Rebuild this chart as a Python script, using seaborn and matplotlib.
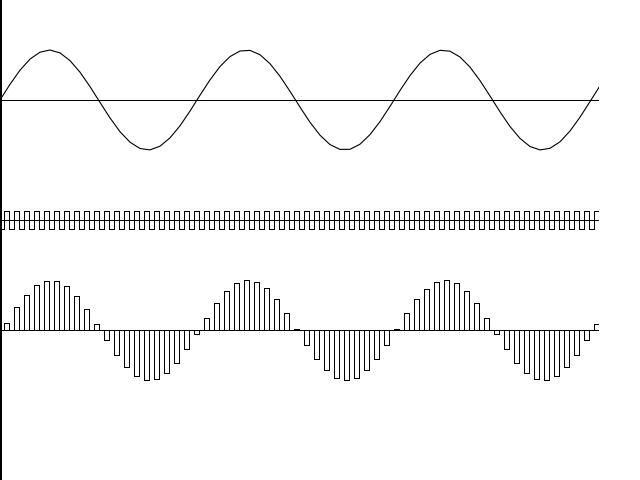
import matplotlib
matplotlib.use("Agg")
import matplotlib.pyplot as plt
import seaborn as sns

sns.set_theme(style="white")
plt.rcParams["lines.antialiased"] = False
plt.rcParams["patch.antialiased"] = False

# ── Data ─────────────────────────────────────────────────────────────────────
# continuous signal, sampled every 10 time units
CURVE_T = list(range(0, 601, 10))
CURVE_Y = [0.0, 15.7, 29.8, 40.9, 47.8, 50.0, 47.1, 39.4, 27.8, 13.4,
           -2.4, -17.9, -31.7, -42.2, -48.5, -49.9, -46.2, -37.9, -25.8, -11.1,
           4.8, 20.1, 33.5, 43.4, 49.0, 49.6, 45.3, 36.3, 23.7, 8.7,
           -7.1, -22.3, -35.2, -44.6, -49.4, -49.3, -44.2, -34.6, -21.6, -6.4,
           9.5, 24.4, 36.9, 45.6, 49.7, 48.8, 43.0, 32.9, 19.4, 4.0,
           -11.8, -26.5, -38.4, -46.5, -49.9, -48.3, -41.8, -31.0, -17.2, -1.6,
           14.2]

# sample clock: one pulse per sample, pulse starts at each sample time
SAMPLE_T = list(range(4, 600, 10))
PULSE_LEN = 5
CLOCK_HIGH, CLOCK_LOW = 1, -1

# sampled (held) values
SAMPLE_Y = [7.5, 22.6, 35.4, 44.7, 49.5, 49.2, 44.0, 34.4, 21.3, 6.0,
            -9.8, -24.7, -37.1, -45.7, -49.8, -48.8, -42.9, -32.6, -19.1, -3.7,
            12.2, 26.7, 38.7, 46.6, 49.9, 48.2, 41.6, 30.8, 16.9, 1.3,
            -14.5, -28.7, -40.1, -47.5, -50.0, -47.5, -40.2, -28.9, -14.6, 1.1,
            16.7, 30.7, 41.5, 48.2, 49.9, 46.7, 38.7, 26.9, 12.3, -3.5,
            -19.0, -32.5, -42.8, -48.7, -49.8, -45.8, -37.2, -24.8, -10.0, 5.9]

T_END = 600

# ── Build clock step series from the sample times ───────────────────────────
clock_t, clock_v = [0], [CLOCK_LOW]
for t in SAMPLE_T:
    clock_t += [t, t + PULSE_LEN]
    clock_v += [CLOCK_HIGH, CLOCK_LOW]
clock_t.append(T_END)
clock_v.append(CLOCK_LOW)

bar_centers = [t + PULSE_LEN / 2 for t in SAMPLE_T]

# ── Figure ───────────────────────────────────────────────────────────────────
W, H = 640, 480
fig = plt.figure(figsize=(6.4, 4.8), dpi=100)
fig.patch.set_facecolor("white")

LW = 0.5
CURVE_LW = 0.8

# full-height frame, only its left edge is drawn
frame = fig.add_axes([0, 0, 1, 1])
frame.set_xticks([]); frame.set_yticks([])
frame.patch.set_alpha(0)
for side in ["top", "right", "bottom"]:
    frame.spines[side].set_visible(False)
frame.spines["left"].set_color("black")
frame.spines["left"].set_linewidth(1.5)

def track(top_px, height_px, ylim):
    ax = fig.add_axes([0, 1 - (top_px + height_px) / H, 599 / W, height_px / H])
    ax.set_xlim(0, 599)
    ax.set_ylim(*ylim)
    ax.axis("off")
    ax.axhline(0, color="black", lw=LW)
    return ax

# continuous signal (smoothed edges keep the slanted line one pixel wide)
ax1 = track(0, 200, (-100, 100))
sns.lineplot(x=CURVE_T, y=CURVE_Y, ax=ax1, color="black", linewidth=CURVE_LW,
             estimator=None, legend=False, antialiased=True)
ax1.axis("off")

# clock
ax2 = track(200, 40, (-20 / 9, 20 / 9))
sns.lineplot(x=clock_t, y=clock_v, ax=ax2, color="black", linewidth=LW,
             estimator=None, drawstyle="steps-post", legend=False)
ax2.axis("off")

# sampled values
ax3 = track(240, 180, (-90, 90))
sns.barplot(x=bar_centers, y=SAMPLE_Y, ax=ax3, native_scale=True, width=0.5,
            color="white", edgecolor="black", linewidth=LW, errorbar=None,
            saturation=1)
ax3.set_xlim(0, 599)
ax3.set_ylim(-90, 90)
ax3.axis("off")

fig.savefig("out.png", dpi=100, facecolor="white")
